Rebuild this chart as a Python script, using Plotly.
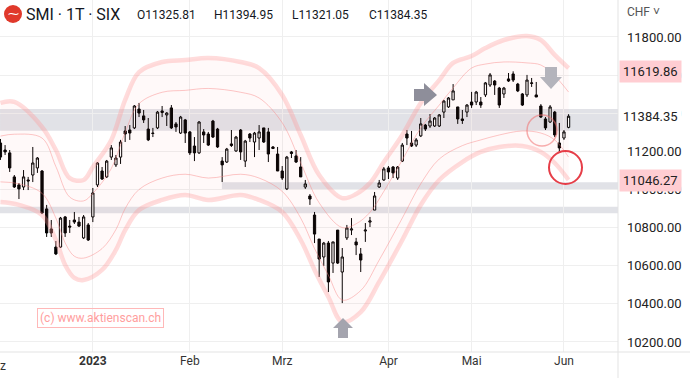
import plotly.graph_objects as go

# ---------------- data ----------------
TICK_IDX = [20, 41, 61, 84, 102, 122]
TICK_TXT = ["<b>2023</b>", "Feb", "Mrz", "Apr", "Mai", "Jun"]

OPEN = [11244, 11207, 11192, 11066, 11024, 11013, 11050, 11076, 11113, 11097,
        10898, 10793, 10698, 10698, 10856, 10808, 10840, 10829, 10746, 10814,
        10856, 11024, 11097, 11066, 11170, 11129, 11170, 11307, 11312, 11323,
        11422, 11386, 11317, 11296, 11323, 11412, 11391, 11428, 11344, 11296,
        11365, 11302, 11228, 11192, 11302, 11291, 11359, 11317, 11149, 11144,
        11239, 11202, 11312, 11149, 11291, 11249, 11270, 11323, 11302, 11223,
        11186, 11097, 11003, 11197, 11176, 11118, 11013, 10966, 10866, 10740,
        10646, 10719, 10614, 10787, 10567, 10746, 10787, 10725, 10662, 10782,
        10829, 10892, 11013, 11050, 11113, 11118, 11060, 11149, 11291, 11244,
        11233, 11281, 11338, 11333, 11333, 11333, 11406, 11433, 11470, 11433,
        11370, 11406, 11459, 11459, 11459, 11496, 11548, 11569, 11532, 11501,
        11580, 11606, 11553, 11501, 11496, 11556, 11496, 11438, 11370, 11354,
        11406, 11244, 11270, 11325.81]
HIGH = [11265, 11233, 11207, 11076, 11034, 11102, 11066, 11223, 11170, 11102,
        10919, 10840, 10730, 10856, 10861, 10840, 10882, 10856, 10866, 10824,
        11008, 11144, 11118, 11155, 11233, 11181, 11260, 11333, 11338, 11443,
        11454, 11417, 11375, 11323, 11412, 11438, 11406, 11443, 11354, 11386,
        11370, 11307, 11275, 11359, 11317, 11302, 11365, 11323, 11170, 11218,
        11312, 11281, 11317, 11260, 11296, 11302, 11338, 11323, 11323, 11228,
        11223, 11123, 11176, 11202, 11207, 11170, 11050, 10976, 10882, 10740,
        10725, 10730, 10725, 10787, 10693, 10814, 10850, 10746, 10693, 10824,
        10856, 10987, 11050, 11118, 11123, 11123, 11123, 11244, 11312, 11307,
        11270, 11375, 11344, 11396, 11380, 11396, 11470, 11485, 11553, 11433,
        11417, 11448, 11512, 11517, 11485, 11564, 11611, 11574, 11538, 11538,
        11611, 11619.86, 11559, 11506, 11601, 11585, 11564, 11448, 11380, 11443,
        11412, 11349, 11312, 11394.95]
LOW = [11155, 11181, 11092, 11008, 10950, 10997, 10997, 11039, 11087, 10871,
       10751, 10751, 10656, 10693, 10751, 10772, 10819, 10803, 10740, 10730,
       10829, 11013, 11050, 11060, 11155, 11118, 11134, 11249, 11260, 11317,
       11380, 11349, 11254, 11275, 11317, 11380, 11333, 11317, 11302, 11291,
       11244, 11181, 11149, 11186, 11244, 11228, 11270, 11218, 11039, 11139,
       11223, 11197, 11155, 11118, 11249, 11170, 11207, 11244, 11144, 11212,
       11097, 11050, 10997, 11165, 11139, 11066, 11003, 10919, 10719, 10541,
       10599, 10462, 10562, 10609, 10404, 10735, 10761, 10656, 10567, 10725,
       10803, 10892, 11008, 11045, 11055, 11060, 11050, 11144, 11233, 11223,
       11223, 11275, 11307, 11323, 11328, 11328, 11375, 11428, 11470, 11344,
       11344, 11380, 11428, 11443, 11428, 11485, 11538, 11496, 11428, 11480,
       11564, 11564, 11511, 11438, 11485, 11538, 11485, 11375, 11312, 11349,
       11275, 11197, 11260, 11321.05]
CLOSE = [11170, 11197, 11113, 11013, 11003, 11066, 11045, 11139, 11165, 10877,
         10772, 10772, 10662, 10850, 10772, 10803, 10829, 10808, 10856, 10735,
         10982, 11139, 11055, 11149, 11218, 11165, 11249, 11291, 11296, 11438,
         11401, 11365, 11260, 11294, 11406, 11404, 11401, 11323, 11328, 11380,
         11296, 11192, 11192, 11354, 11286, 11233, 11275, 11223, 11129, 11212,
         11231, 11275, 11197, 11254, 11270, 11296, 11302, 11249, 11186, 11215,
         11097, 11060, 11170, 11189, 11144, 11066, 11029, 10950, 10766, 10635,
         10719, 10515, 10725, 10614, 10646, 10798, 10793, 10709, 10630, 10787,
         10835, 10966, 11034, 11108, 11092, 11087, 11118, 11233, 11270, 11228,
         11260, 11344, 11317, 11359, 11375, 11391, 11464, 11480, 11517, 11370,
         11362, 11443, 11443, 11511, 11443, 11559, 11601, 11548, 11443, 11532,
         11569, 11574, 11517, 11443, 11574, 11559, 11485, 11380, 11323, 11433,
         11286, 11218, 11302, 11384.35]

# envelope lines (index, price)
OUTER_UP_X = [0, 3, 9, 12, 15, 18, 20, 24, 27, 30, 35, 40, 45, 52, 56, 61, 65, 69, 74, 77,
              80, 83, 87, 91, 95, 98, 102, 105, 109, 114, 117, 120, 123]
OUTER_UP_Y = [11454, 11459, 11328, 11207, 11060, 11050, 11118, 11260, 11470, 11616, 11669,
              11679, 11690, 11669, 11637, 11496, 11286, 11076, 10955, 10976, 11034, 11144,
              11286, 11454, 11574, 11664, 11700, 11742, 11784, 11805, 11784, 11706, 11637]
INNER_UP_Y = [11280, 11290, 11270, 11120, 10960, 10940, 10980, 11110, 11300, 11450, 11510,
              11520, 11530, 11510, 11480, 11350, 11140, 10930, 10800, 10820, 10880, 10990,
              11155, 11323, 11443, 11533, 11637, 11658, 11669, 11664, 11653, 11596, 11511]
LOWER_X = [0, 4, 9, 12, 14, 16, 18, 22, 25, 27, 30, 35, 40, 45, 52, 56, 61, 65, 68, 71, 74,
           78, 82, 87, 91, 95, 100, 104, 108, 113, 117, 120, 123]
OUTER_LO_Y = [10934, 10919, 10866, 10735, 10604, 10536, 10525, 10578, 10683, 10787, 10892,
              10945, 10971, 10945, 10971, 10945, 10882, 10735, 10578, 10436, 10305, 10357,
              10515, 10735, 10919, 11050, 11144, 11197, 11223, 11228, 11197, 11139, 11050]
INNER_LO_Y = [11040, 11030, 10980, 10850, 10720, 10650, 10640, 10690, 10790, 10900, 11000,
              11060, 11080, 11060, 11080, 11060, 10990, 10850, 10690, 10550, 10420, 10470,
              10630, 10850, 11030, 11160, 11230, 11260, 11286, 11307, 11296, 11260, 11170]

ZONES = [(11308, 11422, 0.0), (11002, 11038, 0.359), (10875, 10910, 0.0)]
Y_TICKS = [10200, 10400, 10600, 10800, 11000, 11200, 11400, 11600, 11800]
MARK_LABELS = [(11619.86, "#ffcdd2"), (11046.27, "#ffcdd2"), (11384.35, "#ffffff")]

X = list(range(len(OPEN)))

W, H = 690, 378
PLOT_R, PLOT_B = 618, 352


def pxx(x):
    return x / PLOT_R


def pxy(y):
    return 1 - y / PLOT_B


fig = go.Figure()

pink_thick = "rgba(255,150,150,0.33)"
pink_thin = "rgba(248,130,130,0.45)"

fig.add_trace(go.Scatter(x=LOWER_X, y=OUTER_LO_Y, mode="lines",
                         line=dict(color=pink_thick, width=4.5, shape="spline"),
                         hoverinfo="skip", showlegend=False))
fig.add_trace(go.Scatter(x=OUTER_UP_X, y=OUTER_UP_Y, mode="lines",
                         line=dict(color=pink_thick, width=4.5, shape="spline"),
                         fill="tonexty", fillcolor="rgba(255,120,120,0.045)",
                         hoverinfo="skip", showlegend=False))
fig.add_trace(go.Scatter(x=OUTER_UP_X, y=INNER_UP_Y, mode="lines",
                         line=dict(color=pink_thin, width=1, shape="spline"),
                         hoverinfo="skip", showlegend=False))
fig.add_trace(go.Scatter(x=LOWER_X, y=INNER_LO_Y, mode="lines",
                         line=dict(color=pink_thin, width=1, shape="spline"),
                         hoverinfo="skip", showlegend=False))

fig.add_trace(go.Candlestick(
    x=X, open=OPEN, high=HIGH, low=LOW, close=CLOSE,
    increasing=dict(line=dict(color="#000000", width=1), fillcolor="#ffffff"),
    decreasing=dict(line=dict(color="#000000", width=1), fillcolor="#000000"),
    whiskerwidth=0, showlegend=False))

shapes = []
for y0, y1, xs in ZONES:
    shapes.append(dict(type="rect", xref="paper", yref="y", x0=xs, x1=1, y0=y0, y1=y1,
                       fillcolor="#e1e2e7", line=dict(width=0), layer="below"))
# frame lines
shapes.append(dict(type="line", xref="paper", yref="paper", x0=1, x1=1, y0=pxy(H), y1=1,
                   line=dict(color="#e3e3e3", width=1)))
shapes.append(dict(type="line", xref="paper", yref="paper", x0=0, x1=pxx(W), y0=0, y1=0,
                   line=dict(color="#e3e3e3", width=1)))


def poly(pts, color):
    d = "M " + " L ".join(f"{pxx(a)},{pxy(b)}" for a, b in pts) + " Z"
    return dict(type="path", xref="paper", yref="paper", path=d,
                fillcolor=color, line=dict(width=0))


# arrows
shapes.append(poly([(414, 89), (424, 89), (424, 83), (437, 95), (424, 106), (424, 101), (414, 101)], "#8e8e9a"))
shapes.append(poly([(545, 67), (557, 67), (557, 77), (562, 77), (551, 89), (540, 77), (545, 77)], "#b4b4bc"))
shapes.append(poly([(338, 338), (348, 338), (348, 328), (353, 328), (343, 318), (333, 328), (338, 328)], "#a4a4ae"))
# circles
shapes.append(dict(type="circle", xref="paper", yref="paper", x0=pxx(527), x1=pxx(557),
                   y0=pxy(146), y1=pxy(115), line=dict(color="rgba(240,110,110,0.55)", width=1.5)))
shapes.append(dict(type="circle", xref="paper", yref="paper", x0=pxx(549), x1=pxx(582),
                   y0=pxy(184), y1=pxy(151), line=dict(color="#e63e48", width=2)))
# logo
shapes.append(dict(type="circle", xref="paper", yref="paper", x0=pxx(4), x1=pxx(22),
                   y0=pxy(23), y1=pxy(5), fillcolor="#e0392b", line=dict(width=0)))

FONT = "Roboto, Arial"
ann = []
for val, bg in MARK_LABELS:
    ann.append(dict(xref="paper", yref="y", x=1, y=val, xanchor="left", yanchor="middle",
                    text=f"{val:.2f}", showarrow=False, bgcolor=bg, borderpad=3, xshift=1,
                    font=dict(family=FONT, size=13, color="#222")))
ann.append(dict(xref="paper", yref="paper", x=pxx(3), y=pxy(366), xanchor="center",
                yanchor="middle", text="z", showarrow=False,
                font=dict(family=FONT, size=12, color="#333")))
ann.append(dict(xref="paper", yref="paper", x=pxx(625), y=pxy(12), xanchor="left",
                yanchor="middle", text="CHF ˅", showarrow=False,
                font=dict(family=FONT, size=12, color="#555")))
ann.append(dict(xref="paper", yref="paper", x=pxx(13), y=pxy(14), xanchor="center",
                yanchor="middle", text="⁓", showarrow=False,
                font=dict(family="DejaVu Sans", size=11, color="#ffffff")))
ann.append(dict(xref="paper", yref="paper", x=pxx(24), y=pxy(14), xanchor="left",
                yanchor="middle", text="SMI · 1T · SIX", showarrow=False,
                font=dict(family=FONT, size=16, color="#131722")))
HEAD = [("O", OPEN[-1], 135), ("H", HIGH[-1], 212), ("L", LOW[-1], 290), ("C", CLOSE[-1], 367)]
for letter, val, xp in HEAD:
    ann.append(dict(xref="paper", yref="paper", x=pxx(xp), y=pxy(15), xanchor="left",
                    yanchor="middle", showarrow=False, text=f"{letter}{val:.2f}",
                    font=dict(family=FONT, size=12, color="#131722")))
ann.append(dict(xref="paper", yref="paper", x=pxx(100), y=pxy(318), xanchor="center",
                yanchor="middle", showarrow=False, text="(c) www.aktienscan.ch",
                bordercolor="#ffb8b8", borderwidth=1, borderpad=2,
                font=dict(family=FONT, size=12, color="#ff9e9e")))

fig.update_layout(
    width=W, height=H, margin=dict(l=0, r=W - PLOT_R, t=0, b=H - PLOT_B, autoexpand=False),
    paper_bgcolor="#ffffff", plot_bgcolor="#ffffff",
    shapes=shapes, annotations=ann, showlegend=False,
    xaxis=dict(range=[-0.1, 133.7], tickvals=TICK_IDX, ticktext=TICK_TXT,
               showgrid=True, gridcolor="#efefef", gridwidth=1, zeroline=False,
               rangeslider=dict(visible=False), ticks="", showline=False, automargin=False,
               tickfont=dict(family=FONT, size=12, color="#333")),
    yaxis=dict(range=[10147.5, 11994], side="right", tickvals=Y_TICKS,
               ticktext=[f"{v:.2f}" for v in Y_TICKS], automargin=False,
               showgrid=True, gridcolor="#efefef", gridwidth=1, zeroline=False,
               ticks="", ticklabelstandoff=8, showline=False,
               tickfont=dict(family=FONT, size=13, color="#222")),
)

fig.write_html("out.html", config={"displayModeBar": False},
               post_script="document.body.style.margin='0px';"
                           "document.body.style.padding='0px';"
                           "document.documentElement.style.overflow='hidden';")
